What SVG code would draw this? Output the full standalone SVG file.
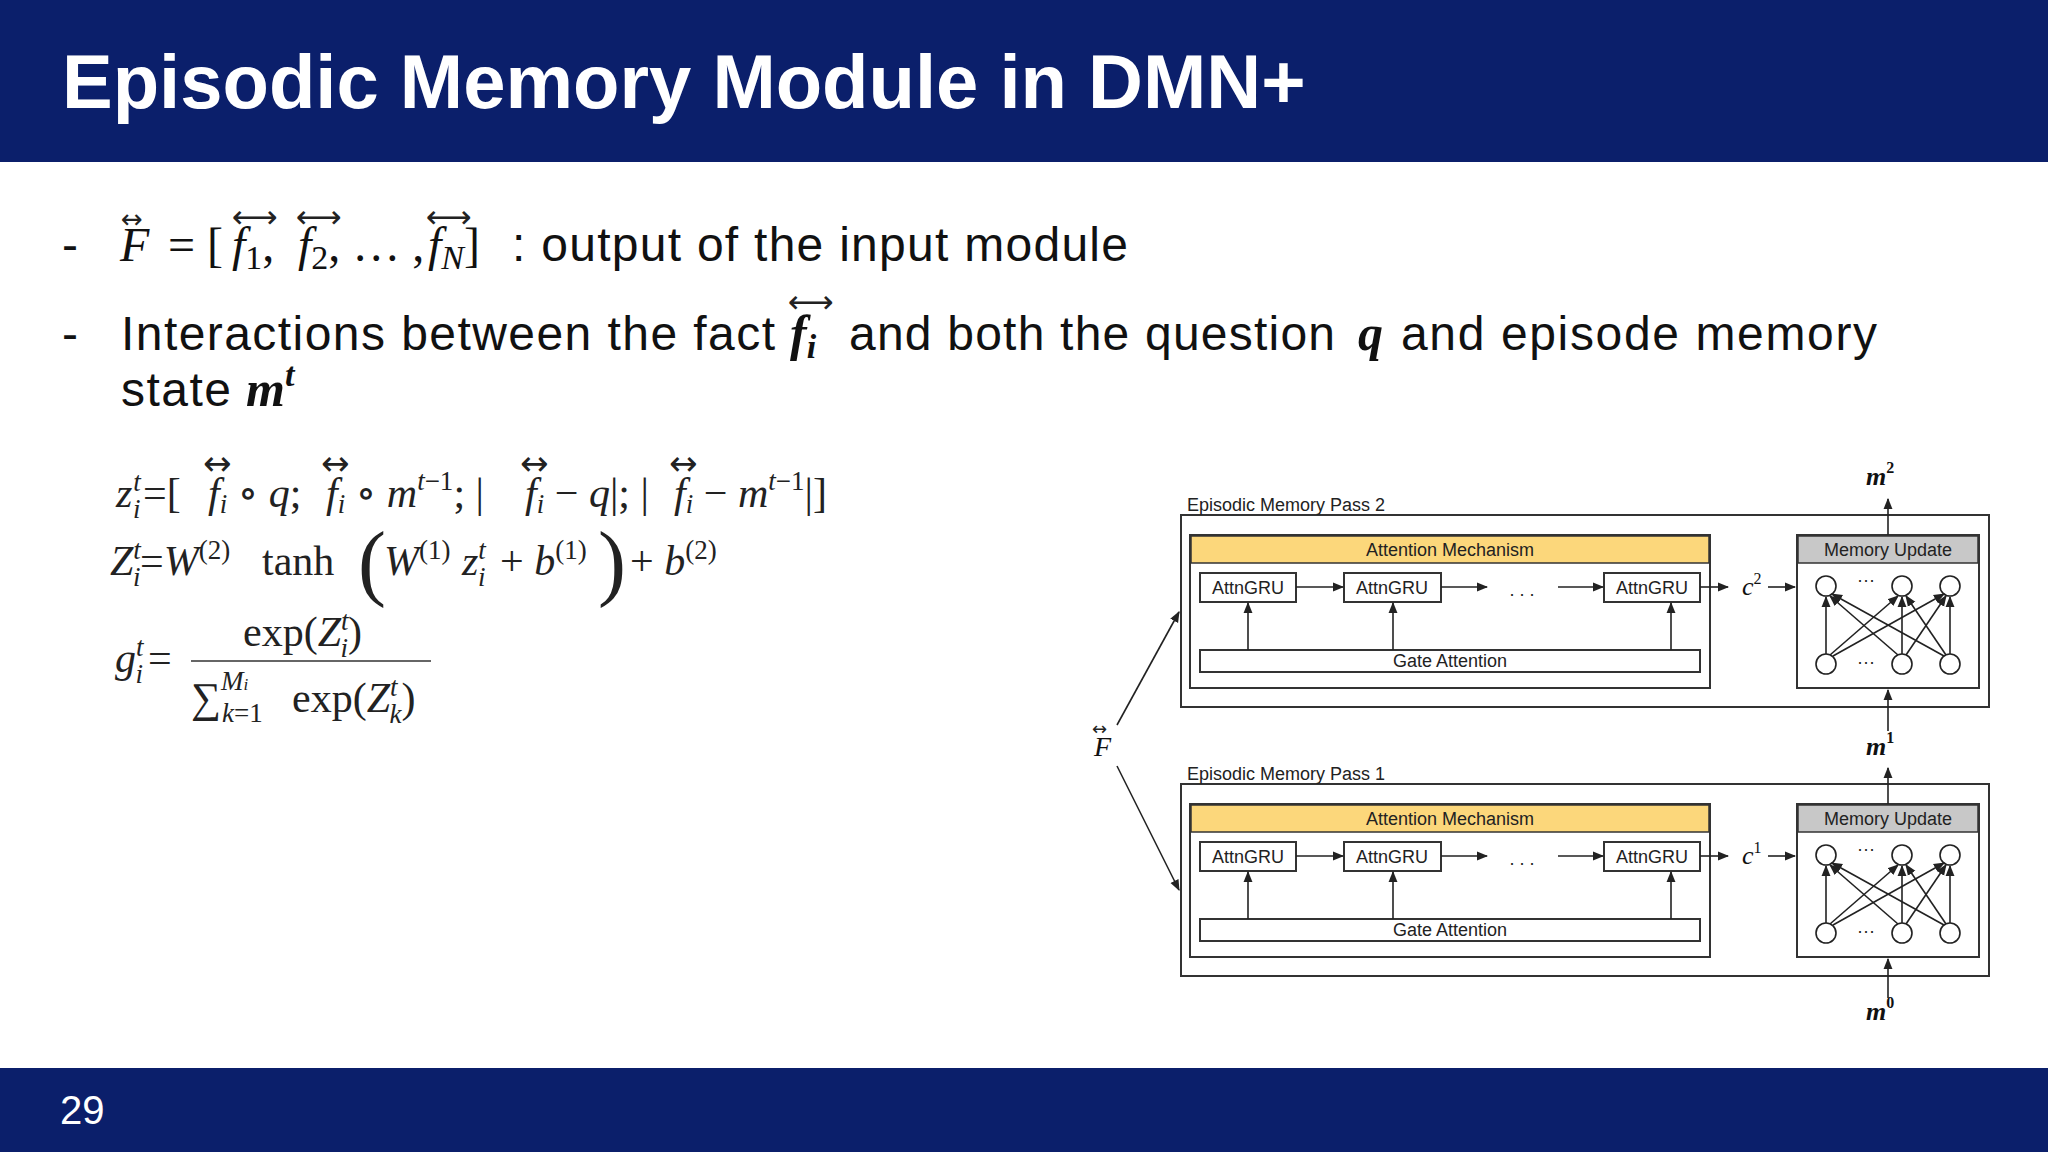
<svg xmlns="http://www.w3.org/2000/svg" width="2048" height="1152" viewBox="0 0 2048 1152">
<defs>
<style>
.sans{font-family:"Liberation Sans",Arial,sans-serif}
.bul{font-family:"Liberation Sans",Arial,sans-serif;font-size:48px;fill:#111}
.m{font-family:"Liberation Serif","DejaVu Serif",serif;font-style:italic;fill:#111}
.eq{font-family:"Liberation Serif","DejaVu Serif",serif;font-size:42px;fill:#222}
.it{font-style:italic}
.sm{font-size:27px}
.ar{font-family:"DejaVu Sans",sans-serif;fill:#222}
.box{fill:#fff;stroke:#333;stroke-width:2}
.lbl{font-family:"Liberation Sans",Arial,sans-serif;font-size:18px;fill:#222;text-anchor:middle}
.ln{stroke:#222;stroke-width:1.6;fill:none}
</style>
<marker id="ah" viewBox="0 0 10 10" refX="9" refY="5" markerWidth="7" markerHeight="7" orient="auto-start-reverse"><path d="M0,1 L10,5 L0,9 z" fill="#222"/></marker>
<g id="pass">
<rect class="box" x="1181" y="515" width="808" height="192" fill="#fff" stroke="#666"/>
<rect class="box" x="1190" y="535" width="520" height="153"/>
<rect x="1191" y="536" width="518" height="27" fill="#fcd77b" stroke="#333" stroke-width="1.5"/>
<text class="lbl" x="1450" y="556">Attention Mechanism</text>
<rect class="box" x="1200" y="573" width="96" height="29"/>
<text class="lbl" x="1248" y="594">AttnGRU</text>
<rect class="box" x="1344" y="573" width="97" height="29"/>
<text class="lbl" x="1392" y="594">AttnGRU</text>
<rect class="box" x="1604" y="573" width="96" height="29"/>
<text class="lbl" x="1652" y="594">AttnGRU</text>
<rect class="box" x="1200" y="650" width="500" height="22"/>
<text class="lbl" x="1450" y="667">Gate Attention</text>
<line class="ln" x1="1296" y1="587" x2="1343" y2="587" marker-end="url(#ah)"/>
<line class="ln" x1="1441" y1="587" x2="1487" y2="587" marker-end="url(#ah)"/>
<text class="lbl" x="1522" y="596">. . .</text>
<line class="ln" x1="1558" y1="587" x2="1603" y2="587" marker-end="url(#ah)"/>
<line class="ln" x1="1248" y1="650" x2="1248" y2="603" marker-end="url(#ah)"/>
<line class="ln" x1="1393" y1="650" x2="1393" y2="603" marker-end="url(#ah)"/>
<line class="ln" x1="1671" y1="650" x2="1671" y2="603" marker-end="url(#ah)"/>
<line class="ln" x1="1700" y1="587" x2="1728" y2="587" marker-end="url(#ah)"/>
<line class="ln" x1="1768" y1="587" x2="1795" y2="587" marker-end="url(#ah)"/>
<rect class="box" x="1797" y="535" width="182" height="153"/>
<rect x="1798" y="536" width="180" height="27" fill="#c8c8c8" stroke="#333" stroke-width="1.5"/>
<text class="lbl" x="1888" y="556">Memory Update</text>
<g fill="#fff" stroke="#222" stroke-width="1.6">
<ellipse cx="1826" cy="586" rx="10" ry="10"/><ellipse cx="1902" cy="586" rx="10" ry="10"/><ellipse cx="1950" cy="586" rx="10" ry="10"/>
<ellipse cx="1826" cy="664" rx="10" ry="10"/><ellipse cx="1902" cy="664" rx="10" ry="10"/><ellipse cx="1950" cy="664" rx="10" ry="10"/>
</g>
<text class="lbl" x="1866" y="586">···</text>
<text class="lbl" x="1866" y="668">···</text>
<g class="ln" stroke-width="1.3">
<line x1="1826" y1="654" x2="1826" y2="597" marker-end="url(#ah)"/>
<line x1="1830" y1="655" x2="1898" y2="596" marker-end="url(#ah)"/>
<line x1="1833" y1="656" x2="1944" y2="594" marker-end="url(#ah)"/>
<line x1="1898" y1="655" x2="1830" y2="596" marker-end="url(#ah)"/>
<line x1="1902" y1="654" x2="1902" y2="597" marker-end="url(#ah)"/>
<line x1="1906" y1="655" x2="1946" y2="596" marker-end="url(#ah)"/>
<line x1="1944" y1="656" x2="1832" y2="594" marker-end="url(#ah)"/>
<line x1="1946" y1="655" x2="1906" y2="596" marker-end="url(#ah)"/>
<line x1="1950" y1="654" x2="1950" y2="597" marker-end="url(#ah)"/>
</g>
</g>
</defs>

<rect x="0" y="0" width="2048" height="162" fill="#0b1f6b"/>
<text x="62" y="108" class="sans" font-size="76" font-weight="bold" fill="#fff">Episodic Memory Module in DMN+</text>
<rect x="0" y="1068" width="2048" height="84" fill="#0b1f6b"/>
<text x="60" y="1124" class="sans" font-size="40" fill="#fff">29</text>

<g id="bullets">
<text class="bul" x="62" y="261">-</text>
<text class="m" font-size="48" x="120" y="261">F</text>
<text class="ar" font-size="26" x="121" y="228">↔</text>
<text class="m" font-size="48" x="168" y="261"><tspan font-style="normal">= [</tspan><tspan x="232">f</tspan><tspan font-style="normal" font-size="34" dy="8">1</tspan><tspan font-style="normal" dy="-8">, </tspan><tspan x="298">f</tspan><tspan font-style="normal" font-size="34" dy="8">2</tspan><tspan font-style="normal" dy="-8">, … , </tspan><tspan x="428">f</tspan><tspan font-size="34" dy="8">N</tspan><tspan font-style="normal" dy="-8">]</tspan></text>
<text class="ar" font-size="32" x="232" y="228">⟷</text>
<text class="ar" font-size="32" x="296" y="228">⟷</text>
<text class="ar" font-size="32" x="426" y="228">⟷</text>
<text class="bul" x="512" y="261" textLength="616">: output of the input module</text>
<text class="bul" x="62" y="350">-</text>
<text class="bul" x="121" y="350" textLength="654">Interactions between the fact</text>
<text class="m" font-size="50" font-weight="bold" x="790" y="350">f<tspan font-size="34" dy="8">i</tspan></text>
<text class="ar" font-size="32" x="788" y="313">⟷</text>
<text class="bul" x="849" y="350" textLength="486">and both the question</text>
<text class="m" font-size="50" font-weight="bold" x="1358" y="350">q</text>
<text class="bul" x="1401" y="350" textLength="476">and episode memory</text>
<text class="bul" x="121" y="406" textLength="110">state</text>
<text class="m" font-size="50" font-weight="bold" x="246" y="406">m<tspan font-size="34" dy="-20">t</tspan></text>
</g>

<g id="equations">
<text class="eq" y="507"><tspan class="it" x="116">z</tspan><tspan class="it sm" dx="1" dy="-16">t</tspan><tspan class="it sm" dx="-8" dy="27">i</tspan><tspan dy="-11" x="143">=[</tspan><tspan class="it" x="208">f</tspan><tspan class="it sm" dy="6">i</tspan><tspan dy="-6"> ∘ </tspan><tspan class="it">q</tspan><tspan>;</tspan><tspan class="it" x="326">f</tspan><tspan class="it sm" dy="6">i</tspan><tspan dy="-6"> ∘ </tspan><tspan class="it">m</tspan><tspan class="sm" dy="-17"><tspan class="it">t</tspan>−1</tspan><tspan dy="17">; |</tspan><tspan class="it" x="525">f</tspan><tspan class="it sm" dy="6">i</tspan><tspan dy="-6"> − </tspan><tspan class="it">q</tspan><tspan>|; |</tspan><tspan class="it" x="674">f</tspan><tspan class="it sm" dy="6">i</tspan><tspan dy="-6"> − </tspan><tspan class="it">m</tspan><tspan class="sm" dy="-17"><tspan class="it">t</tspan>−1</tspan><tspan dy="17">|]</tspan></text>
<text class="ar" font-size="34" x="203" y="475">↔</text>
<text class="ar" font-size="34" x="321" y="475">↔</text>
<text class="ar" font-size="34" x="520" y="475">↔</text>
<text class="ar" font-size="34" x="669" y="475">↔</text>

<text class="eq" y="575"><tspan class="it" x="110">Z</tspan><tspan class="it sm" dy="-16">t</tspan><tspan class="it sm" dx="-8" dy="27">i</tspan><tspan dy="-11" x="140">=</tspan><tspan class="it">W</tspan><tspan class="sm" dy="-16">(2)</tspan><tspan dy="16" x="262">tanh</tspan></text>
<text class="eq" style="font-size:84px" x="358" y="590">(</text>
<text class="eq" y="575"><tspan class="it" x="384">W</tspan><tspan class="sm" dy="-16">(1)</tspan><tspan class="it" dy="16" x="462">z</tspan><tspan class="it sm" dy="-16">t</tspan><tspan class="it sm" dx="-8" dy="27">i</tspan><tspan dy="-11" x="500">+ </tspan><tspan class="it">b</tspan><tspan class="sm" dy="-16">(1)</tspan></text>
<text class="eq" style="font-size:84px" x="598" y="590">)</text>
<text class="eq" y="575"><tspan x="630">+ </tspan><tspan class="it">b</tspan><tspan class="sm" dy="-16">(2)</tspan></text>

<text class="eq" y="672"><tspan class="it" x="115">g</tspan><tspan class="it sm" dy="-16">t</tspan><tspan class="it sm" dx="-8" dy="27">i</tspan><tspan dy="-11" x="148">=</tspan></text>
<line x1="191" y1="661" x2="431" y2="661" stroke="#666" stroke-width="2"/>
<text class="eq" y="646"><tspan x="243">exp(</tspan><tspan class="it">Z</tspan><tspan class="it sm" dy="-16">t</tspan><tspan class="it sm" dx="-8" dy="27">i</tspan><tspan dy="-11">)</tspan></text>
<text class="eq" y="712"><tspan x="191">∑</tspan><tspan class="sm" dy="-22"><tspan class="it">M</tspan><tspan class="it" style="font-size:17px">i</tspan></tspan><tspan class="sm" x="222" dy="32"><tspan class="it">k</tspan>=1</tspan><tspan dy="-10" x="292">exp(</tspan><tspan class="it">Z</tspan><tspan class="it sm" dy="-16">t</tspan><tspan class="it sm" dx="-8" dy="27">k</tspan><tspan dy="-11">)</tspan></text>
</g>

<g id="pass2"><use href="#pass"/></g>
<text class="sans" font-size="18" x="1187" y="511" fill="#222">Episodic Memory Pass 2</text>
<text class="m" font-size="26" x="1742" y="595">c<tspan font-style="normal" font-size="16" dy="-11">2</tspan></text>
<g id="pass1"><use href="#pass" y="269"/></g>
<text class="sans" font-size="18" x="1187" y="780" fill="#222">Episodic Memory Pass 1</text>
<text class="m" font-size="26" x="1742" y="864">c<tspan font-style="normal" font-size="16" dy="-11">1</tspan></text>

<g id="connectors">
<line class="ln" x1="1888" y1="535" x2="1888" y2="499" marker-end="url(#ah)"/>
<line class="ln" x1="1888" y1="731" x2="1888" y2="690" marker-end="url(#ah)"/>
<line class="ln" x1="1888" y1="804" x2="1888" y2="768" marker-end="url(#ah)"/>
<line class="ln" x1="1888" y1="998" x2="1888" y2="959" marker-end="url(#ah)"/>
<line class="ln" x1="1117" y1="725" x2="1179" y2="612" marker-end="url(#ah)"/>
<line class="ln" x1="1117" y1="766" x2="1179" y2="890" marker-end="url(#ah)"/>
</g>
<text class="m" font-size="26" x="1866" y="485" font-weight="bold">m<tspan font-style="normal" font-size="16" dy="-12">2</tspan></text>
<text class="m" font-size="26" x="1866" y="755" font-weight="bold">m<tspan font-style="normal" font-size="16" dy="-12">1</tspan></text>
<text class="m" font-size="26" x="1866" y="1020" font-weight="bold">m<tspan font-style="normal" font-size="16" dy="-12">0</tspan></text>
<text class="m" font-size="28" x="1094" y="756">F</text>
<text class="ar" font-size="18" x="1092" y="735">↔</text>
</svg>
